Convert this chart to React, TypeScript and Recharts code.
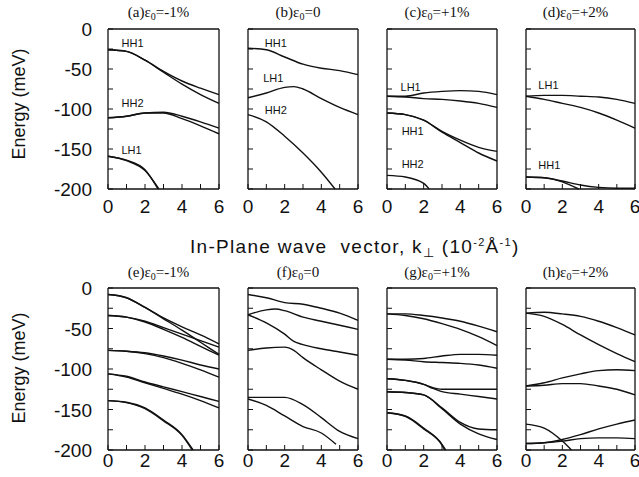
import { LineChart, Line, XAxis, YAxis, ReferenceDot } from "recharts";

type Pt = [number, number];
type BandLabel = { text: string; k: number; e: number };

const kTicks = [0, 1, 2, 3, 4, 5, 6];
const kLabels = [0, 2, 4, 6];
const eTicks = [0, -25, -50, -75, -100, -125, -150, -175, -200];
const eLabels = [0, -50, -100, -150, -200];

const letters = ["a", "b", "c", "d", "e", "f", "g", "h"];
const strains = ["-1%", "0", "+1%", "+2%", "-1%", "0", "+1%", "+2%"];

// (a) eps0 = -1%
const curvesA: Pt[][] = [
  [[0, -26], [1, -28], [2, -39], [3, -53], [4, -65], [5, -74], [6, -82]],
  [[0, -26], [1, -28], [2, -39], [3, -54], [4, -69], [5, -82], [6, -93]],
  [[0, -111], [1, -109], [2, -105], [3, -104], [4, -109], [5, -116], [6, -124]],
  [[0, -111], [1, -109], [2, -105], [3, -105], [4, -112], [5, -121], [6, -131]],
  [[0, -159], [1, -164], [2, -176], [2.7, -200]],
  [[0, -159], [1, -164.5], [2, -177], [2.75, -200]],
];
// (b) eps0 = 0
const curvesB: Pt[][] = [
  [[0, -24], [1, -26], [2, -35], [3, -44], [4, -49], [5, -52], [6, -57]],
  [[0, -86], [1, -80], [2, -73], [2.5, -72], [3, -75], [4, -87], [5, -98], [6, -107]],
  [[0, -107], [1, -116], [2, -134], [3, -155], [4, -179], [4.75, -200]],
];
// (c) eps0 = +1%
const curvesC: Pt[][] = [
  [[0, -84], [1, -84], [2, -80], [3, -78], [4, -77], [5, -78], [6, -82]],
  [[0, -84], [1, -85], [2, -87], [3, -88], [4, -90], [5, -93], [6, -98]],
  [[0, -105], [1, -107], [2, -114], [3, -128], [4, -139], [5, -148], [6, -153]],
  [[0, -105], [1, -107], [2, -114], [3, -129], [4, -142], [5, -155], [6, -165]],
  [[0, -183], [1, -185], [2, -193], [2.3, -200]],
];
// (d) eps0 = +2%
const curvesD: Pt[][] = [
  [[0, -84], [1, -83], [2, -83], [3, -84], [4, -85], [5, -88], [6, -93]],
  [[0, -84], [1, -88], [2, -93], [3, -98], [4, -105], [5, -114], [6, -124]],
  [[0, -185], [1, -186], [2, -191], [2.9, -200]],
  [[0, -185], [1, -186], [2, -190], [3, -195], [4, -198], [5, -199], [6, -199]],
];
// (e) eps0 = -1%
const curvesE: Pt[][] = [
  [[0, -8], [1, -12], [2, -24], [3, -37], [4, -48], [5, -58], [6, -69]],
  [[0, -8], [1, -12], [2, -24], [3, -38], [4, -52], [5, -67], [6, -82]],
  [[0, -34], [1, -36], [2, -41], [3, -49], [4, -57], [5, -65], [6, -73]],
  [[0, -34], [1, -36], [2, -42], [3, -51], [4, -61], [5, -72], [6, -83]],
  [[0, -77], [1, -78], [2, -80], [3, -84], [4, -89], [5, -95], [6, -100]],
  [[0, -77], [1, -78], [2, -81], [3, -86], [4, -93], [5, -101], [6, -110]],
  [[0, -106], [1, -109], [2, -116], [3, -122], [4, -128], [5, -134], [6, -140]],
  [[0, -106], [1, -110], [2, -117], [3, -124], [4, -131], [5, -139], [6, -148]],
  [[0, -139], [1, -141], [2, -148], [3, -163], [4, -181], [4.6, -200]],
  [[0, -139], [1, -141.5], [2, -149], [3, -164], [4, -182], [4.55, -200]],
];
// (f) eps0 = 0
const curvesF: Pt[][] = [
  [[0, -8], [1, -12], [2, -18], [3, -20], [4, -25], [5, -31], [6, -40]],
  [[0, -33], [1, -27], [1.5, -26], [2, -28], [3, -36], [4, -41], [5, -46], [6, -51]],
  [[0, -33], [1, -43], [2, -57], [2.5, -66], [3, -70], [4, -75], [5, -79], [6, -83]],
  [[0, -77], [1, -74], [2, -73], [2.5, -77], [3, -86], [4, -101], [5, -115], [6, -125]],
  [[0, -135], [1, -135], [2, -135], [3, -144], [4, -160], [5, -177], [6, -186]],
  [[0, -137], [1, -145], [2, -158], [3, -171], [4, -179], [4.8, -193]],
];
// (g) eps0 = +1%
const curvesG: Pt[][] = [
  [[0, -32], [1, -32], [2, -34], [3, -37], [4, -41], [5, -47], [6, -54]],
  [[0, -32], [1, -34], [2, -38], [3, -44], [4, -51], [5, -60], [6, -71]],
  [[0, -88], [1, -88], [2, -87], [3, -84], [4, -82], [5, -82], [6, -83]],
  [[0, -88], [1, -89], [2, -91], [3, -92], [4, -93], [5, -95], [6, -99]],
  [[0, -112], [1, -114], [2, -119], [2.5, -123], [3, -125], [4, -125], [5, -125], [6, -125]],
  [[0, -112], [1, -114], [2, -119], [2.5, -124], [3, -128], [4, -131], [5, -134], [6, -137]],
  [[0, -128], [1, -129], [2, -132], [3, -148], [4, -166], [5, -174], [6, -175]],
  [[0, -128], [1, -129], [2, -132], [3, -149], [4, -168], [5, -180], [6, -187]],
  [[0, -154], [1, -158], [2, -173], [3, -193], [3.2, -200]],
  [[0, -154], [1, -158.5], [2, -174], [3, -194], [3.15, -200]],
];
// (h) eps0 = +2%
const curvesH: Pt[][] = [
  [[0, -31], [1, -30], [2, -32], [3, -35], [4, -41], [5, -49], [6, -58]],
  [[0, -31], [1, -35], [2, -45], [3, -58], [4, -70], [5, -81], [6, -91]],
  [[0, -121], [1, -117], [2, -111], [3, -106], [4, -102], [5, -101], [6, -102]],
  [[0, -121], [1, -120], [2, -118], [3, -118], [4, -121], [5, -125], [6, -132]],
  [[0, -168], [1, -173], [2, -189], [2.5, -200]],
  [[0, -192], [1, -191], [2, -187], [3, -181], [4, -174], [5, -168], [6, -163]],
  [[0, -192], [1, -191], [2, -189], [3, -186], [4, -185], [5, -185], [6, -186]],
];

const labelsA: BandLabel[] = [
  { text: "HH1", k: 0.73, e: -17.5 },
  { text: "HH2", k: 0.73, e: -92.5 },
  { text: "LH1", k: 0.73, e: -151 },
];
const labelsB: BandLabel[] = [
  { text: "HH1", k: 0.92, e: -17.5 },
  { text: "LH1", k: 0.83, e: -61 },
  { text: "HH2", k: 0.92, e: -101 },
];
const labelsC: BandLabel[] = [
  { text: "LH1", k: 0.74, e: -73 },
  { text: "HH1", k: 0.8, e: -127.5 },
  { text: "HH2", k: 0.8, e: -169 },
];
const labelsD: BandLabel[] = [
  { text: "LH1", k: 0.68, e: -70 },
  { text: "HH1", k: 0.68, e: -170 },
];

const allCurves = [curvesA, curvesB, curvesC, curvesD, curvesE, curvesF, curvesG, curvesH];
const allLabels = [labelsA, labelsB, labelsC, labelsD, [], [], [], []];

const colLeft = [108, 248, 387, 526];
const colWidth = [111, 110, 110, 109];
const rowTop = [29, 288];
const rowHeight = [160, 162];
const xLabelGap = [17, 10]; // distance from axis to the centre of the k tick labels

const SANS = '"Liberation Sans", Arial, Helvetica, sans-serif';
const SERIF = '"Liberation Serif", "Times New Roman", serif';
const INK = "#111";
const T = 5;

function Panel({ idx }: { idx: number }) {
  const col = idx % 4;
  const row = Math.floor(idx / 4);
  // the four axes each take 1px, so margins are 1px less on every side
  const m = { top: 9, right: 11, bottom: 39, left: col === 0 ? 59 : 11 };
  const w = colWidth[col];
  const h = rowHeight[row];
  const curves = allCurves[idx];
  const gap = xLabelGap[row];

  return (
    <div style={{ position: "absolute", left: colLeft[col] - m.left - 1, top: rowTop[row] - m.top - 1 }}>
      <LineChart width={w + m.left + m.right + 2} height={h + m.top + m.bottom + 2} margin={m}>
        <XAxis
          dataKey="k"
          type="number"
          domain={[0, 6]}
          ticks={kTicks}
          interval={0}
          height={1}
          tickSize={0}
          tickMargin={0}
          tickLine={false}
          axisLine={{ stroke: INK, strokeWidth: 1.3 }}
          tick={(p: any) => (
            <g>
              <line x1={p.x} y1={p.y} x2={p.x} y2={p.y - T} stroke={INK} strokeWidth={1} />
              {kLabels.includes(p.payload.value) && (
                <text x={p.x} y={p.y + gap + 7} textAnchor="middle" fontSize={19} fontFamily={SANS} fill={INK}>
                  {p.payload.value}
                </text>
              )}
            </g>
          )}
        />
        <XAxis
          xAxisId="top"
          orientation="top"
          type="number"
          domain={[0, 6]}
          ticks={kTicks}
          interval={0}
          height={1}
          tickSize={0}
          tickMargin={0}
          tickLine={false}
          axisLine={{ stroke: INK, strokeWidth: 1.3 }}
          tick={(p: any) => <line x1={p.x} y1={p.y} x2={p.x} y2={p.y + T} stroke={INK} strokeWidth={1} />}
        />
        <YAxis
          type="number"
          domain={[-200, 0]}
          ticks={eTicks}
          interval={0}
          width={1}
          tickSize={0}
          tickMargin={0}
          tickLine={false}
          axisLine={{ stroke: INK, strokeWidth: 1.3 }}
          tick={(p: any) => (
            <g>
              <line x1={p.x} y1={p.y} x2={p.x + T} y2={p.y} stroke={INK} strokeWidth={1} />
              {col === 0 && eLabels.includes(p.payload.value) && (
                <text x={p.x - 16} y={p.y + 7} textAnchor="end" fontSize={19} fontFamily={SANS} fill={INK}>
                  {p.payload.value}
                </text>
              )}
            </g>
          )}
        />
        <YAxis
          yAxisId="right"
          orientation="right"
          type="number"
          domain={[-200, 0]}
          ticks={eTicks}
          interval={0}
          width={1}
          tickSize={0}
          tickMargin={0}
          tickLine={false}
          axisLine={{ stroke: INK, strokeWidth: 1.3 }}
          tick={(p: any) => <line x1={p.x} y1={p.y} x2={p.x - T} y2={p.y} stroke={INK} strokeWidth={1} />}
        />
        {curves.map((c, i) => (
          <Line
            key={i}
            data={c.map(([k, e]) => ({ k, e }))}
            dataKey="e"
            type="monotone"
            stroke={INK}
            strokeWidth={1.4}
            dot={false}
            activeDot={false}
            isAnimationActive={false}
          />
        ))}
        {allLabels[idx].map((l) => (
          <ReferenceDot
            key={l.text}
            x={l.k}
            y={l.e}
            r={0}
            fill="none"
            stroke="none"
            label={{ value: l.text, position: "right", offset: 0, fontSize: 11, fontFamily: SANS, fill: INK }}
          />
        ))}
      </LineChart>
    </div>
  );
}

function Title({ idx }: { idx: number }) {
  const col = idx % 4;
  const row = Math.floor(idx / 4);
  return (
    <div
      style={{
        position: "absolute",
        left: colLeft[col] - 10,
        width: colWidth[col] + 10,
        top: row === 0 ? 3 : 263,
        textAlign: "center",
        fontFamily: SERIF,
        fontSize: 15,
        whiteSpace: "nowrap",
        lineHeight: "18px",
      }}
    >
      ({letters[idx]})ε<sub style={{ fontSize: 10, verticalAlign: "-3px" }}>0</sub>={strains[idx]}
    </div>
  );
}

function EnergyLabel({ cy }: { cy: number }) {
  return (
    <div
      style={{
        position: "absolute",
        left: 19,
        top: cy,
        transform: "translate(-50%, -50%) rotate(-90deg)",
        fontFamily: SANS,
        fontSize: 18,
        whiteSpace: "nowrap",
        lineHeight: "20px",
      }}
    >
      Energy (meV)
    </div>
  );
}

export default function App() {
  return (
    <div style={{ position: "absolute", left: 0, top: 0, width: 639, height: 477, background: "#fff", overflow: "hidden", color: INK }}>
      {letters.map((_, i) => (
        <Panel key={i} idx={i} />
      ))}
      {letters.map((_, i) => (
        <Title key={i} idx={i} />
      ))}
      <EnergyLabel cy={104} />
      <EnergyLabel cy={368} />
      <div
        style={{
          position: "absolute",
          left: 190,
          top: 231,
          fontFamily: SANS,
          fontSize: 19,
          letterSpacing: 1.3,
          whiteSpace: "nowrap",
          lineHeight: "22px",
        }}
      >
        In-Plane wave&nbsp; vector, k<sub style={{ fontSize: 13, verticalAlign: "-4px" }}>⊥</sub> (10
        <sup style={{ fontSize: 11, verticalAlign: "7px" }}>-2</sup>Å<sup style={{ fontSize: 11, verticalAlign: "7px" }}>-1</sup>)
      </div>
    </div>
  );
}
